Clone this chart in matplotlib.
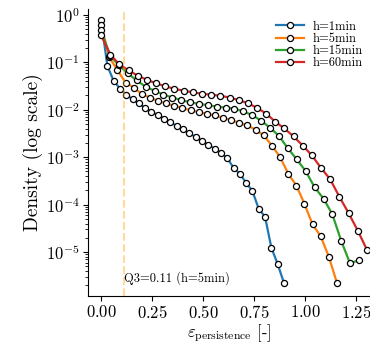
import matplotlib
matplotlib.use("Agg")
import matplotlib.pyplot as plt

plt.rcParams["font.family"] = ["cmr10"]
plt.rcParams["mathtext.fontset"] = "cm"
plt.rcParams["axes.formatter.use_mathtext"] = True
plt.rcParams["axes.unicode_minus"] = False

labels = ["h=1min", "h=5min", "h=15min", "h=60min"]
colors = ["#1f77b4", "#ff7f0e", "#2ca02c", "#d62728"]

# error values (bin positions) per horizon
eps_1 = [0, 0.031, 0.062, 0.093, 0.124, 0.155, 0.186, 0.217, 0.247, 0.278,
         0.309, 0.340, 0.371, 0.402, 0.433, 0.464, 0.495, 0.526, 0.557, 0.588,
         0.619, 0.650, 0.680, 0.711, 0.742, 0.773, 0.804, 0.835, 0.866, 0.897]
eps_5 = [0, 0.040, 0.080, 0.120, 0.160, 0.199, 0.239, 0.279, 0.319, 0.359,
         0.399, 0.439, 0.479, 0.519, 0.559, 0.598, 0.638, 0.678, 0.718, 0.758,
         0.798, 0.838, 0.878, 0.918, 0.958, 0.997, 1.037, 1.077, 1.117, 1.157]
eps_15 = [0, 0.044, 0.087, 0.131, 0.174, 0.218, 0.262, 0.305, 0.349, 0.393,
          0.436, 0.480, 0.523, 0.567, 0.611, 0.654, 0.698, 0.742, 0.785, 0.829,
          0.872, 0.916, 0.960, 1.003, 1.047, 1.091, 1.134, 1.178, 1.221, 1.265]
eps_60 = [0, 0.045, 0.090, 0.135, 0.180, 0.225, 0.270, 0.315, 0.360, 0.405,
          0.450, 0.495, 0.540, 0.585, 0.630, 0.675, 0.720, 0.765, 0.810, 0.855,
          0.899, 0.944, 0.989, 1.034, 1.079, 1.124, 1.169, 1.214, 1.259, 1.304]

# densities
dens_1 = [0.76, 0.0828, 0.0403, 0.0279, 0.0205, 0.0167, 0.01355, 0.0108, 0.00916, 0.00764,
          0.00652, 0.00542, 0.00458, 0.00385, 0.00316, 0.00269, 0.0022, 0.00182, 0.00152, 0.00124,
          0.000957, 0.000594, 0.00045, 0.000291, 0.000195, 8.2e-5, 5.58e-5, 1.25e-5, 5.6e-6, 2.24e-6]
dens_5 = [0.60, 0.128, 0.0684, 0.0372, 0.0293, 0.0217, 0.0179, 0.0155, 0.0136, 0.0121,
          0.0109, 0.0097, 0.0089, 0.0082, 0.00764, 0.00673, 0.00605, 0.0053, 0.00467, 0.00378,
          0.00287, 0.00176, 0.0010, 0.00045, 0.000252, 0.000105, 3.85e-5, 2.16e-5, 7.98e-6, 2.24e-6]
dens_15 = [0.474, 0.1387, 0.0869, 0.0583, 0.0416, 0.0307, 0.0251, 0.0209, 0.0181, 0.016,
           0.0144, 0.0133, 0.0125, 0.0116, 0.0111, 0.01054, 0.0092, 0.00771, 0.00586, 0.00418,
           0.00281, 0.00155, 0.000895, 0.000514, 0.000234, 0.000134, 6.3e-5, 1.72e-5, 5.8e-6, 6.8e-6]
dens_60 = [0.372, 0.1455, 0.0899, 0.0673, 0.0522, 0.0427, 0.036, 0.0312, 0.0276, 0.0251,
           0.0233, 0.0217, 0.0207, 0.0197, 0.0181, 0.016, 0.0137, 0.01096, 0.00828, 0.00556,
           0.00403, 0.00274, 0.00176, 0.00109, 0.000592, 0.000341, 0.000146, 6.64e-5, 2.84e-5, 1.12e-5]

q3_value = 0.11
q3_label = "Q3=0.11 (h=5min)"

fig = plt.figure(figsize=(3.7, 3.44), dpi=100)
ax = fig.add_axes([0.238, 0.14, 0.762, 0.834])

xs = [eps_1, eps_5, eps_15, eps_60]
ys = [dens_1, dens_5, dens_15, dens_60]
for x, y, label, color in zip(xs, ys, labels, colors):
    ax.plot(x, y, color=color, lw=1.6, marker="o", markersize=4.4,
            markerfacecolor="white", markeredgecolor="black", markeredgewidth=0.9,
            label=label)

ax.axvline(q3_value, color="orange", alpha=0.4, ls="--", lw=1.5)
ax.text(q3_value + 0.004, 2.9e-6, q3_label, fontsize=9, va="center", ha="left")

ax.set_yscale("log")
ax.set_xlim(-0.064, 1.319)
ax.set_ylim(1.2e-6, 1.33)
ax.set_xticks([0, 0.25, 0.5, 0.75, 1.0, 1.25])
ax.tick_params(labelsize=12, pad=2.5)
ax.set_xlabel(r"$\varepsilon_{\mathrm{persistence}}$ [-]", fontsize=12, labelpad=1)
ax.set_ylabel("Density (log scale)", fontsize=14, labelpad=2)
ax.spines["top"].set_visible(False)
ax.spines["right"].set_visible(False)

ax.legend(loc="upper right", bbox_to_anchor=(1.0, 0.985), frameon=False, fontsize=9,
          labelspacing=0.0, handlelength=2.2, handletextpad=0.7, borderaxespad=0.2)

fig.savefig("out.png", dpi=100)
